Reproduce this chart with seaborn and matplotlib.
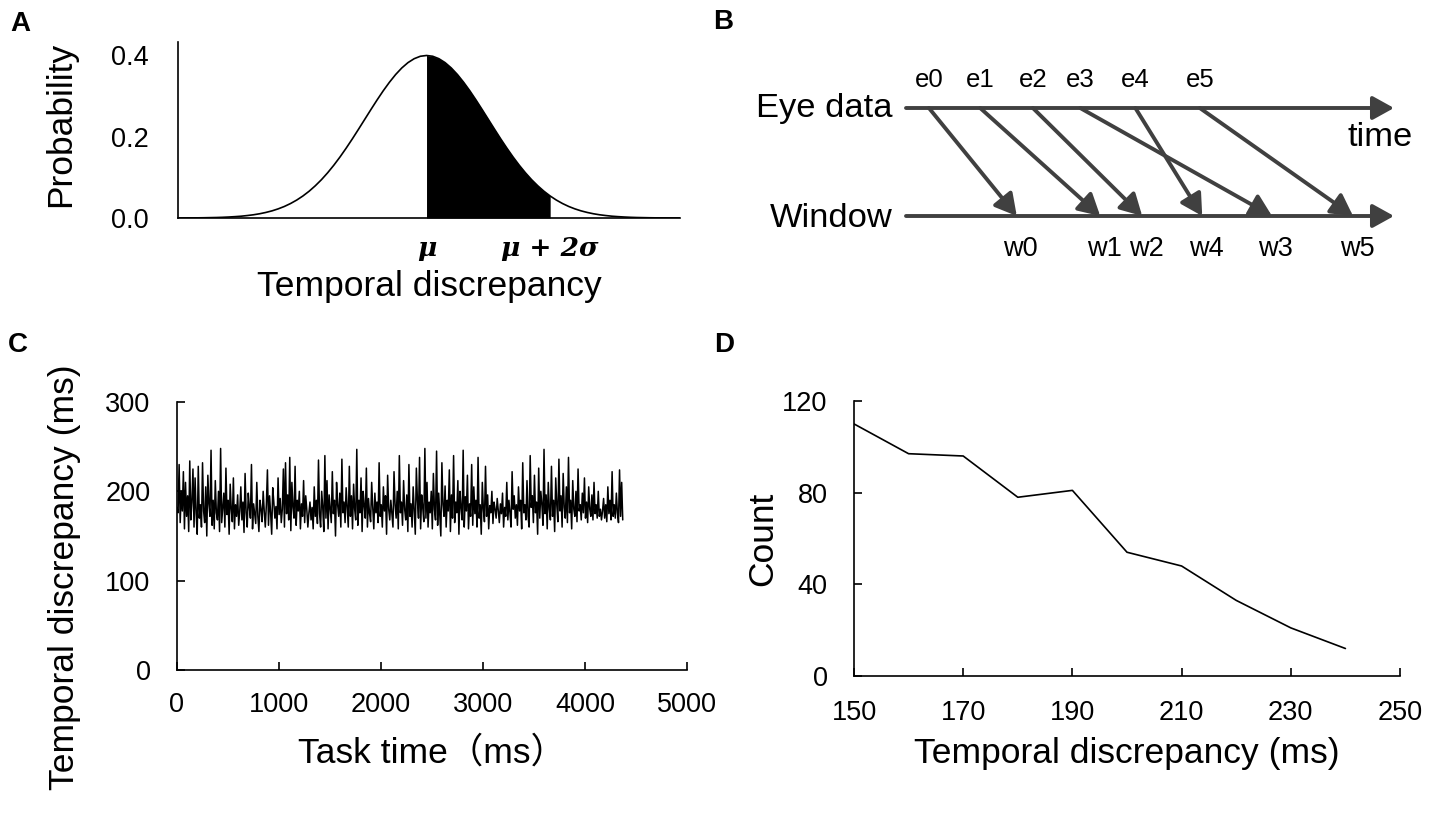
import numpy as np
import pandas as pd
import matplotlib
matplotlib.use("Agg")
import matplotlib.pyplot as plt
import matplotlib.transforms as mtransforms
import seaborn as sns

# ---- data ----
# A: standard normal density (x in sigma units, step 0.1)
norm_x = np.round(np.arange(-4.0, 4.15, 0.1), 1)
norm_y = [0.0001, 0.0002, 0.0003, 0.0004, 0.0006, 0.0009, 0.0012, 0.0017, 0.0024, 0.0033,
          0.0044, 0.0060, 0.0079, 0.0104, 0.0136, 0.0175, 0.0224, 0.0283, 0.0355, 0.0440,
          0.0540, 0.0656, 0.0790, 0.0940, 0.1109, 0.1295, 0.1497, 0.1714, 0.1942, 0.2179,
          0.2420, 0.2661, 0.2897, 0.3123, 0.3332, 0.3521, 0.3683, 0.3814, 0.3910, 0.3970,
          0.3989,
          0.3970, 0.3910, 0.3814, 0.3683, 0.3521, 0.3332, 0.3123, 0.2897, 0.2661, 0.2420,
          0.2179, 0.1942, 0.1714, 0.1497, 0.1295, 0.1109, 0.0940, 0.0790, 0.0656, 0.0540,
          0.0440, 0.0355, 0.0283, 0.0224, 0.0175, 0.0136, 0.0104, 0.0079, 0.0060, 0.0044,
          0.0033, 0.0024, 0.0017, 0.0012, 0.0009, 0.0006, 0.0004, 0.0003, 0.0002, 0.0001,
          0.0001]

# B: eye-data sample times and window times (arbitrary time units, 0..10)
eye_times = [0.47, 1.52, 2.60, 3.57, 4.70, 6.02]
win_times = [2.27, 3.98, 4.84, 7.50, 6.07, 9.16]
eye_labels = ["e0", "e1", "e2", "e3", "e4", "e5"]
win_labels = ["w0", "w1", "w2", "w3", "w4", "w5"]

# C: temporal discrepancy over task time (ms)
discrepancy = [
    182, 176, 230, 165, 200, 178, 222, 158, 210, 172, 195, 155, 234, 168, 188, 225, 160, 215, 175, 152,
    228, 170, 185, 160, 232, 178, 165, 205, 150, 218, 186, 172, 246, 162, 190, 158, 212, 176, 168, 200,
    155, 248, 165, 182, 198, 160, 226, 174, 190, 152, 208, 180, 166, 215, 158, 185, 172, 196, 162, 178,
    205, 168, 188, 154, 220, 176, 160, 198, 182, 170, 230, 158, 186, 175, 164, 210, 172, 155, 190, 180,
    166, 200, 178, 160, 185, 224, 162, 195, 176, 152, 204, 188, 170, 183, 158, 215, 174, 192, 165, 180,
    225, 160, 232, 175, 196, 168, 238, 156, 210, 182, 170, 228, 162, 190, 178, 200, 158, 186, 172, 212,
    165, 195, 180, 160, 176, 188, 168, 182, 158, 205, 172, 190, 164, 235, 175, 160, 200, 182, 155, 240,
    170, 212, 158, 196, 180, 165, 222, 175, 190, 150, 210, 185, 172, 198, 160, 236, 176, 188, 165, 204,
    182, 160, 228, 172, 195, 158, 208, 180, 168, 247, 162, 190, 176, 215, 155, 200, 184, 170, 226, 160,
    192, 175, 166, 210, 182, 158, 198, 176, 188, 165, 232, 172, 185, 160, 205, 178, 195, 152, 218, 180,
    168, 190, 175, 160, 222, 185, 170, 200, 158, 240, 176, 188, 162, 212, 180, 168, 196, 155, 230, 172,
    186, 160, 205, 178, 152, 226, 190, 170, 238, 158, 196, 182, 166, 248, 170, 210, 160, 188, 176, 200,
    158, 220, 180, 168, 245, 162, 198, 175, 150, 232, 185, 172, 206, 160, 190, 178, 224, 155, 196, 170,
    240, 165, 188, 176, 212, 152, 200, 182, 168, 246, 160, 194, 178, 218, 158, 186, 172, 230, 162, 205,
    175, 190, 160, 238, 170, 185, 152, 210, 180, 166, 228, 172, 196, 158, 184, 176, 200, 164, 188, 180,
    170, 192, 178, 165, 186, 175, 198, 160, 182, 172, 210, 168, 190, 176, 160, 222, 180, 195, 170, 185,
    162, 205, 178, 190, 158, 232, 176, 185, 168, 212, 172, 160, 240, 182, 195, 165, 218, 176, 188, 152,
    226, 170, 200, 185, 162, 247, 175, 196, 158, 210, 180, 168, 228, 172, 190, 155, 215, 185, 166, 236,
    178, 195, 160, 220, 182, 170, 205, 165, 238, 176, 190, 158, 212, 180, 172, 200, 166, 225, 178, 185,
    168, 198, 176, 215, 170, 188, 165, 205, 180, 172, 196, 168, 210, 175, 185, 170, 200, 172, 180, 168,
    178, 192, 170, 185, 166, 205, 175, 190, 168, 222, 172, 185, 170, 198, 176, 165, 224, 172, 210, 168,
]
task_end_ms = 4370

# D: histogram of temporal discrepancy
bins_ms = [150, 160, 170, 180, 190, 200, 210, 220, 230, 240]
counts = [110, 97, 96, 78, 81, 54, 48, 33, 21, 12]

# ---- style ----
sns.set_theme(style="white")
plt.rcParams["font.family"] = ["Liberation Sans", "Noto Sans CJK SC", "DejaVu Sans"]
plt.rcParams.update({
    "axes.linewidth": 1.2,
    "axes.edgecolor": "black",
    "text.color": "black",
    "axes.labelcolor": "black",
    "xtick.color": "black",
    "ytick.color": "black",
})

W, H = 1429, 822
fig = plt.figure(figsize=(W / 100, H / 100), dpi=100)


def px_axes(left, top, right, bottom):
    return fig.add_axes([left / W, 1 - bottom / H, (right - left) / W, (bottom - top) / H])


LABEL_FS = 25.5
TICK_FS = 19.5

# ---- A ----
axA = px_axes(178, 42, 680, 218)
dfA = pd.DataFrame({"x": norm_x, "y": norm_y})
sns.lineplot(data=dfA, x="x", y="y", ax=axA, color="black", lw=1.2)
axA.fill_between(norm_x, 0, norm_y, where=(norm_x >= 0) & (norm_x <= 2), color="black", lw=0)
axA.set_xlim(-4.02, 4.1)
axA.set_ylim(0, 0.432)
axA.set_yticks([0.0, 0.2, 0.4])
axA.set_yticklabels(["0.0", "0.2", "0.4"])
axA.set_xticks([0, 2])
axA.set_xticklabels(["μ", "μ + 2σ"], family="DejaVu Serif", fontweight="bold",
                    style="italic", fontsize=19)
# the reference sets these symbols slightly right of their tick positions
for lbl, dx in zip(axA.get_xticklabels(), (4, 16)):
    lbl.set_transform(lbl.get_transform() + mtransforms.ScaledTranslation(dx / 100, 0, fig.dpi_scale_trans))
axA.tick_params(axis="y", length=0, pad=21, labelsize=TICK_FS)
axA.tick_params(axis="x", length=0, pad=13)
axA.set_xlabel("Temporal discrepancy", fontsize=LABEL_FS, va="center")
axA.xaxis.set_label_coords(0.5, -0.392)
axA.set_ylabel("Probability", fontsize=LABEL_FS, va="center")
axA.yaxis.set_label_coords((61 - 178) / 502, 0.53)
sns.despine(ax=axA)

# ---- B ----
axB = px_axes(906, 108, 1394, 216)
axB.set_xlim(0, 10)
axB.set_ylim(0, 1)
axB.axis("off")
gray = "#404040"
head = "-|>,head_length=0.65,head_width=0.36"
for yy in (1, 0):
    axB.annotate("", xy=(10, yy), xytext=(0, yy), annotation_clip=False,
                 arrowprops=dict(arrowstyle=head, color=gray, lw=2.8,
                                 shrinkA=0, shrinkB=0, mutation_scale=20))
for et, wt, el, wl in zip(eye_times, win_times, eye_labels, win_labels):
    axB.annotate("", xy=(wt, 0), xytext=(et, 1), annotation_clip=False,
                 arrowprops=dict(arrowstyle=head, color=gray, lw=2.8,
                                 shrinkA=0, shrinkB=0, mutation_scale=20))
    axB.text(et, 1.26, el, ha="center", va="center", fontsize=18.5, clip_on=False)
    axB.text(wt + 0.08, -0.31, wl, ha="center", va="center", fontsize=19.5, clip_on=False)
axB.text(-0.27, 1.0, "Eye data", ha="right", va="center", fontsize=24.8)
axB.text(-0.27, -0.02, "Window", ha="right", va="center", fontsize=24.8)
axB.text(9.71, 0.73, "time", ha="center", va="center", fontsize=24.8)

# ---- C ----
axC = px_axes(177, 402, 687, 670)
timesC = np.linspace(0, task_end_ms, len(discrepancy))
dfC = pd.DataFrame({"t": timesC, "d": discrepancy})
sns.lineplot(data=dfC, x="t", y="d", ax=axC, color="black", lw=1.1)
axC.set_xlim(0, 5000)
axC.set_ylim(0, 300)
axC.set_xticks(range(0, 5001, 1000))
axC.set_yticks(range(0, 301, 100))
axC.tick_params(direction="in", length=6, width=1.2, labelsize=TICK_FS,
                bottom=True, left=True)
axC.tick_params(axis="y", pad=19)
axC.tick_params(axis="x", pad=16)
axC.set_xlabel("Task time（ms）", fontsize=LABEL_FS, va="center")
axC.xaxis.set_label_coords(0.5, -0.309)
axC.set_ylabel("Temporal discrepancy (ms)", fontsize=LABEL_FS, va="center")
axC.yaxis.set_label_coords(-0.22, 0.347)
sns.despine(ax=axC)

# ---- D ----
axD = px_axes(854, 401, 1400, 676)
dfD = pd.DataFrame({"ms": bins_ms, "count": counts})
sns.lineplot(data=dfD, x="ms", y="count", ax=axD, color="black", lw=1.2)
axD.set_xlim(150, 250)
axD.set_ylim(0, 120)
axD.set_xticks(range(150, 251, 20))
axD.set_yticks(range(0, 121, 40))
axD.tick_params(direction="in", length=6, width=1.2, labelsize=TICK_FS,
                bottom=True, left=True)
axD.tick_params(axis="y", pad=19)
axD.tick_params(axis="x", pad=17)
axD.set_xlabel("Temporal discrepancy (ms)", fontsize=LABEL_FS, va="center")
axD.xaxis.set_label_coords(0.5, -0.28)
axD.set_ylabel("Count", fontsize=LABEL_FS, va="center")
axD.yaxis.set_label_coords(-0.167, 0.5)
sns.despine(ax=axD)

# panel letters
for letter, (x, y) in {"A": (20, 24), "B": (723, 22), "C": (18, 345), "D": (724, 345)}.items():
    fig.text(x / W, 1 - y / H, letter, fontsize=20, fontweight="bold", ha="center", va="center")

fig.savefig("out.png", dpi=100)
